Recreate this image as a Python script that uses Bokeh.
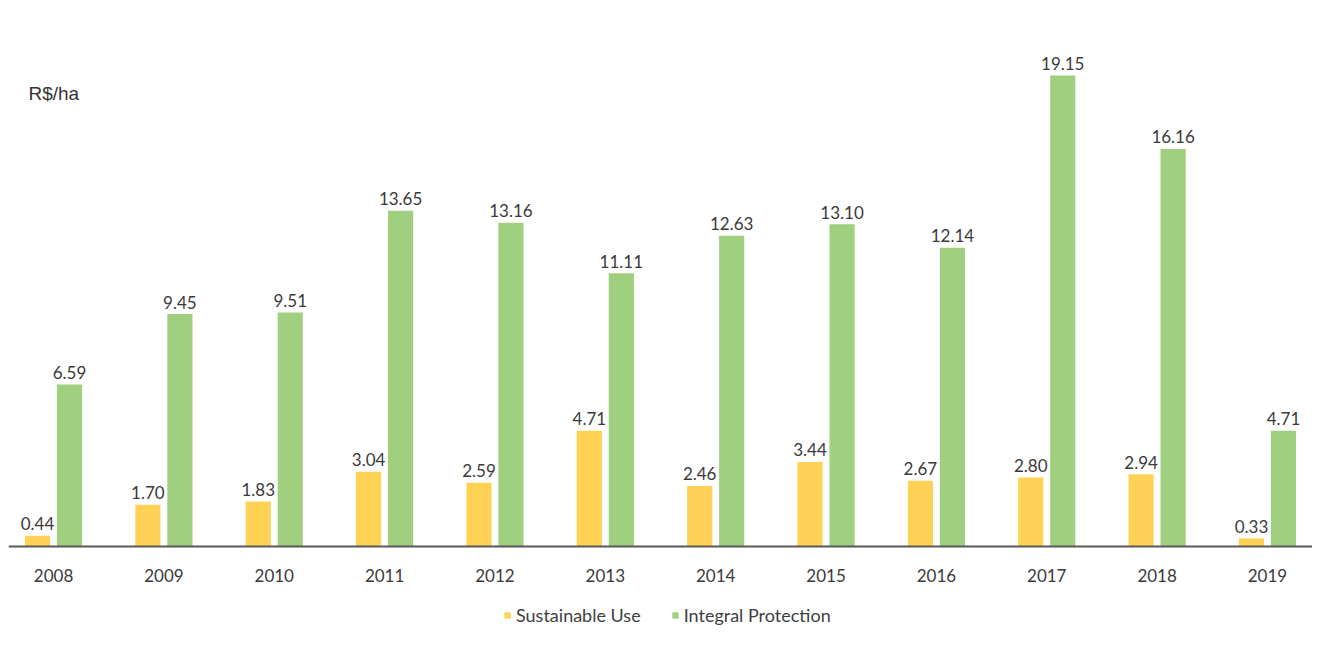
from bokeh.plotting import figure
from bokeh.models import ColumnDataSource, Legend, LegendItem, Label
from bokeh.core.properties import value
from bokeh.embed import file_html
from bokeh.resources import INLINE

years = ["2008", "2009", "2010", "2011", "2012", "2013", "2014", "2015", "2016", "2017", "2018", "2019"]
sustainable_use = [0.44, 1.70, 1.83, 3.04, 2.59, 4.71, 2.46, 3.44, 2.67, 2.80, 2.94, 0.33]
integral_protection = [6.59, 9.45, 9.51, 13.65, 13.16, 11.11, 12.63, 13.10, 12.14, 19.15, 16.16, 4.71]

YELLOW = "#FFD154"
GREEN = "#9FCF7F"
FONT = "Lato"

idx = list(range(len(years)))
off = 0.145
bw = 0.228

src_su = ColumnDataSource(dict(x=[i - off for i in idx], top=sustainable_use,
                               lbl=[f"{v:.2f}" for v in sustainable_use]))
src_ip = ColumnDataSource(dict(x=[i + off for i in idx], top=integral_protection,
                               lbl=[f"{v:.2f}" for v in integral_protection]))

p = figure(frame_width=1304, frame_height=618, output_backend="svg", toolbar_location=None,
           x_range=(-0.408, 11.408), y_range=(-3.252, 21.87),
           min_border_left=8, min_border_right=0, min_border_top=8, min_border_bottom=0)
p.outline_line_color = None
p.background_fill_color = "white"
p.border_fill_color = "white"
p.grid.visible = False
p.yaxis.visible = False

r1 = p.vbar(x="x", top="top", width=bw, source=src_su, color=YELLOW, line_color=None)
r2 = p.vbar(x="x", top="top", width=bw, source=src_ip, color=GREEN, line_color=None)

for s in (src_su, src_ip):
    p.text(x="x", y="top", text="lbl", source=s, text_align="center", text_baseline="alphabetic",
           y_offset=-12, text_font=value(FONT), text_font_size="17px", text_color="#3a3a3a")

xa = p.xaxis[0]
xa.fixed_location = 0
xa.ticker = idx
xa.major_label_overrides = {i: y for i, y in zip(idx, years)}
xa.major_tick_line_color = None
xa.minor_tick_line_color = None
xa.major_tick_out = 0
xa.major_tick_in = 0
xa.major_label_standoff = 22
xa.axis_line_color = "#595959"
xa.axis_line_width = 2
xa.major_label_text_font = FONT
xa.major_label_text_font_size = "17px"
xa.major_label_text_color = "#3a3a3a"

p.add_layout(Label(x=-0.227, y=18.4, text="R$/ha", text_baseline="middle",
                   text_font="Liberation Sans", text_font_size="19px", text_color="#333333"))

legend = Legend(items=[LegendItem(label="Sustainable Use", renderers=[r1]),
                       LegendItem(label="Integral Protection", renderers=[r2])],
                orientation="horizontal", location=(495, 0),
                label_text_font=FONT, label_text_font_size="18px", label_text_color="#404040",
                glyph_width=8, glyph_height=8, label_height=18, label_standoff=5, spacing=30,
                border_line_color=None, background_fill_alpha=0, padding=0, margin=0)
p.add_layout(legend)

open("out.html", "w").write(file_html(p, INLINE))
